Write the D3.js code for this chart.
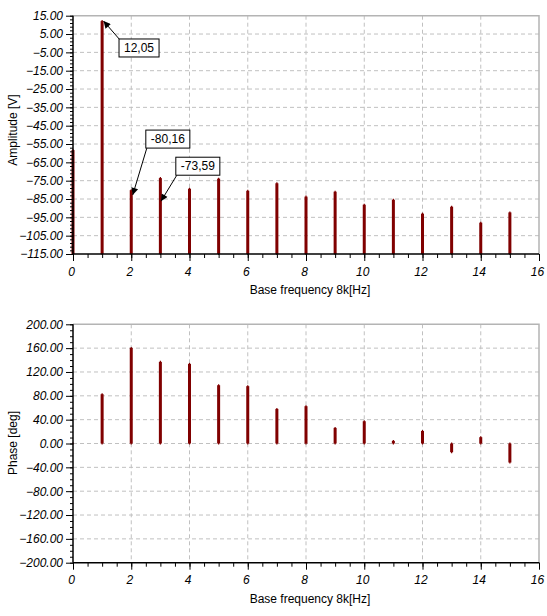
<!DOCTYPE html>
<html>
<head>
<meta charset="utf-8">
<script src="https://cdn.jsdelivr.net/npm/d3@7"></script>
<style>
  body { margin: 0; background: #fff; }
  text { font-family: Arial, "Liberation Sans", sans-serif; }
  .tick text { font-style: italic; font-size: 12px; fill: #000; }
</style>
</head>
<body>
<div id="chart-container"></div>
<script>
// harmonic number (x 8 kHz)
const harmonics = [0, 1, 2, 3, 4, 5, 6, 7, 8, 9, 10, 11, 12, 13, 14, 15];
const amplitude = [-58.3, 12.05, -80.16, -73.59, -79.4, -73.9, -80.5, -76.4, -83.7, -81.0, -88.1, -85.4, -93.0, -89.2, -97.9, -92.3];
const phase = [0, 82.7, 160.4, 137.0, 133.6, 97.8, 96.2, 58.0, 62.6, 26.2, 37.4, 4.4, 21.0, -14.6, 10.6, -31.9];

const ampTicks = [15, 5, -5, -15, -25, -35, -45, -55, -65, -75, -85, -95, -105, -115];
const phaseTicks = [200, 160, 120, 80, 40, 0, -40, -80, -120, -160, -200];
const freqTicks = [0, 2, 4, 6, 8, 10, 12, 14, 16];

// callouts on the amplitude plot: label, arrow tip, box corner (data units)
const calloutText = ['12,05', '-80,16', '-73,59'];
const calloutTipX = [1.05, 2.05, 3.02];
const calloutTipY = [12.05, -82.8, -86.2];
const calloutBoxX = [1.58, 2.5, 3.53];
const calloutBoxY = [2.3, -47.4, -62.2];
const calloutFrom = ['top', 'bottom', 'bottom'];

const width = 547, height = 616;
const left = 73, right = 539;
const barColor = '#800000';

const svg = d3.select('#chart-container')
  .append('svg')
  .attr('width', width)
  .attr('height', height);

svg.append('defs').append('marker')
  .attr('id', 'arrow')
  .attr('viewBox', '0 0 10 10')
  .attr('refX', 10).attr('refY', 5)
  .attr('markerWidth', 11).attr('markerHeight', 7)
  .attr('markerUnits', 'userSpaceOnUse')
  .attr('orient', 'auto')
  .append('path')
  .attr('d', 'M0,0L10,5L0,10Z')
  .attr('fill', '#000');

function drawPanel(opts) {
  const x = d3.scaleLinear().domain([0, 16]).range([left, right]);
  const y = d3.scaleLinear().domain(opts.domain).range([opts.bottom, opts.top]);
  const g = svg.append('g');

  // grid
  g.append('g').selectAll('line')
    .data(freqTicks.filter(d => d > 0 && d < 16))
    .enter().append('line')
    .attr('x1', d => x(d)).attr('x2', d => x(d))
    .attr('y1', opts.top).attr('y2', opts.bottom)
    .attr('stroke', '#c0c0c0').attr('stroke-dasharray', '4,3');
  g.append('g').selectAll('line')
    .data(opts.ticks.filter(d => d !== opts.domain[0] && d !== opts.domain[1]))
    .enter().append('line')
    .attr('x1', left).attr('x2', right)
    .attr('y1', d => y(d)).attr('y2', d => y(d))
    .attr('stroke', '#c0c0c0').attr('stroke-dasharray', '4,3');

  // top and right frame
  g.append('path')
    .attr('d', `M${left},${opts.top}H${right}V${opts.bottom}`)
    .attr('fill', 'none').attr('stroke', '#b4b4b4').attr('stroke-width', 1.5);

  // bars
  const base = opts.base === undefined ? opts.domain[0] : opts.base;
  g.append('g').selectAll('rect')
    .data(opts.values)
    .enter().append('rect')
    .attr('x', (d, i) => x(harmonics[i]) - 1.5)
    .attr('y', d => y(Math.max(d, base)))
    .attr('width', 3)
    .attr('height', d => Math.abs(y(d) - y(base)))
    .attr('fill', barColor);
  g.append('g').selectAll('line')
    .data(opts.values)
    .enter().append('line')
    .attr('x1', (d, i) => x(harmonics[i])).attr('x2', (d, i) => x(harmonics[i]))
    .attr('y1', d => y(Math.max(d, base)) - 1)
    .attr('y2', d => y(Math.min(d, base)) + 1)
    .attr('stroke', barColor).attr('stroke-width', 1.2);

  // y axis
  g.append('g')
    .attr('transform', `translate(${left},0)`)
    .call(d3.axisLeft(y).tickValues(d3.range(opts.domain[0], opts.domain[1] + 0.01, opts.minorStep))
      .tickSize(3).tickFormat(''))
    .call(a => a.select('.domain').remove());
  g.append('g')
    .attr('transform', `translate(${left},0)`)
    .call(d3.axisLeft(y).tickValues(opts.ticks).tickSize(7).tickPadding(3).tickFormat(d3.format('.2f')))
    .call(a => a.select('.domain').attr('stroke-width', 1.5).attr('d', `M0,${opts.top}V${opts.bottom}`));

  // x axis
  g.append('g')
    .attr('transform', `translate(0,${opts.bottom})`)
    .call(d3.axisBottom(x).tickValues(d3.range(0, 16.01, 0.5)).tickSize(4).tickFormat(''))
    .call(a => a.select('.domain').remove());
  g.append('g')
    .attr('transform', `translate(0,${opts.bottom})`)
    .call(d3.axisBottom(x).tickValues(freqTicks).tickSize(7).tickPadding(6).tickFormat(d3.format('d')))
    .call(a => a.select('.domain').attr('stroke-width', 1.5).attr('d', `M${left},0H${right}`))
    .call(a => a.selectAll('.tick text').attr('dx', -2));

  // titles
  g.append('text')
    .attr('x', (left + right) / 2 + 4)
    .attr('y', opts.bottom + 40)
    .attr('text-anchor', 'middle')
    .attr('font-size', 12)
    .text('Base frequency 8k[Hz]');
  g.append('text')
    .attr('transform', `translate(17,${opts.titleY}) rotate(-90)`)
    .attr('text-anchor', 'middle')
    .attr('font-size', 12)
    .text(opts.title);

  return { x, y, g };
}

const amp = drawPanel({
  domain: [-115, 15], top: 15.7, bottom: 254,
  ticks: ampTicks, minorStep: 2,
  values: amplitude, title: 'Amplitude [V]', titleY: 130
});

drawPanel({
  domain: [-200, 200], top: 324.3, bottom: 562.7, base: 0,
  ticks: phaseTicks, minorStep: 10,
  values: phase, title: 'Phase [deg]', titleY: 443
});

// callouts
const callouts = amp.g.append('g').selectAll('g')
  .data(calloutText)
  .enter().append('g');

callouts.each(function(label, i) {
  const c = d3.select(this);
  const bx = amp.x(calloutBoxX[i]);
  const by = amp.y(calloutBoxY[i]);
  const text = c.append('text')
    .attr('x', bx + 5)
    .attr('y', by + 13)
    .attr('font-size', 12)
    .text(label);
  const w = text.node().getComputedTextLength() + 10;
  const h = 18;
  c.insert('rect', 'text')
    .attr('x', bx).attr('y', by)
    .attr('width', w).attr('height', h)
    .attr('fill', '#fff').attr('stroke', '#000');
  const sy = calloutFrom[i] === 'top' ? by + 1 : by + h;
  c.insert('line', 'rect')
    .attr('x1', bx + 1).attr('y1', sy)
    .attr('x2', amp.x(calloutTipX[i])).attr('y2', amp.y(calloutTipY[i]))
    .attr('stroke', '#000')
    .attr('marker-end', 'url(#arrow)');
});
</script>
</body>
</html>
